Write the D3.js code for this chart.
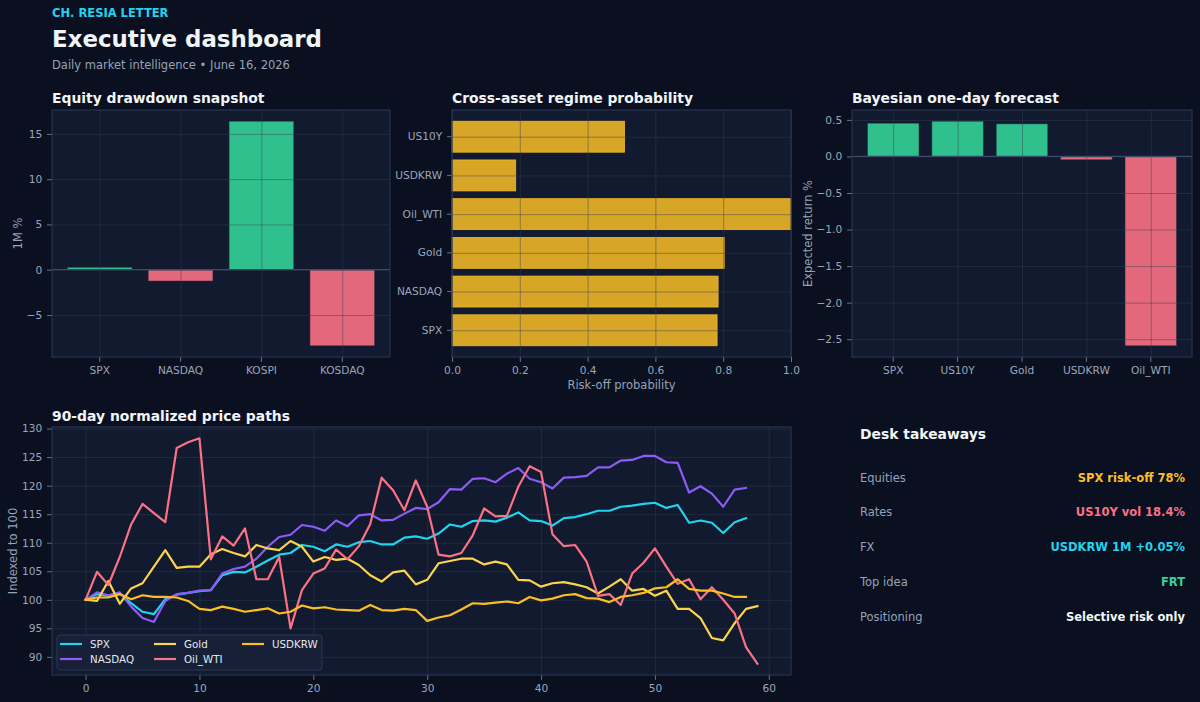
<!DOCTYPE html>
<html lang="en">
<head>
<meta charset="UTF-8">
<title>Executive dashboard</title>
<script src="https://cdn.jsdelivr.net/npm/d3@7"></script>
<style>
    body { margin: 0; background: #0b1020; }
    svg { display: block; }
    text { font-family: 'DejaVu Sans', sans-serif; }
    .tick text { fill: #9aa5bb; font-size: 10.6px; }
    .tick line { stroke: #64748b; }
    .domain { display: none; }
    .grid line { stroke: #334155; stroke-opacity: 0.45; }
    .label { fill: #94a3b8; font-size: 11.5px; text-anchor: middle; }
    .ptitle { fill: #f1f5f9; font-size: 13.9px; font-weight: bold; }
</style>
</head>
<body>
<svg width="1200" height="702"></svg>
<script>
    // ---- data ----
    const equityNames = ["SPX", "NASDAQ", "KOSPI", "KOSDAQ"];
    const equityValues = [0.27, -1.25, 16.4, -8.4];

    const regimeNames = ["SPX", "NASDAQ", "Gold", "Oil_WTI", "USDKRW", "US10Y"];
    const regimeValues = [0.782, 0.785, 0.803, 1.0, 0.188, 0.509];

    const forecastNames = ["SPX", "US10Y", "Gold", "USDKRW", "Oil_WTI"];
    const forecastValues = [0.455, 0.482, 0.446, -0.045, -2.59];

    const seriesNames = ["SPX", "NASDAQ", "Gold", "Oil_WTI", "USDKRW"];
    const spx = [100, 101.0, 100.7, 101.1, 99.4, 97.9, 97.5, 100.1, 100.9, 101.2, 101.5, 101.7, 104.3, 104.9, 104.8,
        105.8, 106.9, 107.9, 108.2, 109.6, 109.3, 108.5, 109.7, 109.3, 110.1, 110.3, 109.7, 109.7, 110.9, 111.1,
        110.7, 111.6, 113.2, 112.8, 113.8, 113.9, 113.7, 114.4, 115.3, 113.9, 113.8, 113.0, 114.3, 114.5, 115.0,
        115.6, 115.6, 116.3, 116.5, 116.8, 117.0, 116.1, 116.6, 113.5, 113.9, 113.5, 111.7, 113.6, 114.3];
    const nasdaq = [100, 101.3, 100.8, 101.3, 98.8, 96.8, 96.1, 99.8, 101.0, 101.2, 101.6, 101.7, 104.6, 105.4, 105.8,
        107.2, 109.3, 111.0, 111.4, 113.1, 112.8, 112.1, 113.9, 112.9, 114.8, 115.0, 113.9, 114.0, 115.1, 116.1,
        115.9, 117.1, 119.4, 119.3, 121.2, 121.3, 120.6, 122.1, 123.1, 121.2, 120.6, 119.5, 121.4, 121.5, 121.7,
        123.2, 123.2, 124.4, 124.5, 125.2, 125.2, 124.1, 124.0, 118.8, 119.9, 118.6, 116.3, 119.3, 119.6];
    const gold = [100, 99.8, 103.3, 99.3, 102.0, 102.9, 105.8, 108.7, 105.6, 105.8, 105.8, 108.0, 108.9, 108.2, 107.6,
        109.6, 109.0, 108.7, 110.3, 109.3, 106.7, 107.5, 107.0, 107.2, 106.1, 104.3, 103.2, 104.8, 105.1, 102.7,
        103.5, 106.4, 106.8, 107.2, 107.2, 106.2, 106.7, 106.2, 103.5, 103.4, 102.3, 102.9, 103.1, 102.7, 102.2,
        101.1, 102.3, 103.6, 101.6, 101.9, 100.7, 101.6, 98.4, 98.4, 96.8, 93.3, 92.9, 95.9, 98.4, 98.9];
    const oilWti = [100, 104.9, 102.6, 107.5, 113.2, 116.8, 115.2, 113.6, 126.6, 127.6, 128.3, 107.1, 111.1, 109.5, 112.5,
        103.6, 103.6, 107.5, 95.0, 101.7, 104.6, 105.5, 108.8, 107.1, 109.4, 113.3, 121.4, 119.2, 115.7, 120.9,
        116.3, 107.9, 107.6, 108.2, 111.3, 116.0, 114.6, 114.7, 119.8, 123.4, 122.4, 111.5, 109.4, 109.6, 106.7,
        100.7, 101.0, 99.1, 104.6, 106.5, 109.0, 105.8, 102.8, 103.6, 100.1, 102.2, 100.0, 97.6, 91.7, 88.8];
    const usdkrw = [100, 100.4, 100.4, 101.0, 100.1, 100.8, 100.5, 100.5, 100.4, 99.8, 98.4, 98.2, 98.8, 98.4, 97.9,
        98.2, 98.5, 97.6, 97.9, 99.0, 98.5, 98.7, 98.3, 98.2, 98.1, 99.1, 98.2, 98.1, 98.4, 98.2,
        96.3, 96.9, 97.3, 98.3, 99.4, 99.3, 99.5, 99.7, 99.4, 100.5, 99.9, 100.2, 100.8, 101.0, 100.3,
        100.2, 99.6, 100.5, 100.8, 101.2, 102.0, 102.2, 103.6, 101.9, 101.6, 101.6, 101.1, 100.5, 100.5];
    const seriesValues = [spx, nasdaq, gold, oilWti, usdkrw];
    const seriesColors = ["#22d3ee", "#8b5cf6", "#fcd34d", "#fb7185", "#fbbf24"];

    const takeawayLabels = ["Equities", "Rates", "FX", "Top idea", "Positioning"];
    const takeawayValues = ["SPX risk-off 78%", "US10Y vol 18.4%", "USDKRW 1M +0.05%", "FRT", "Selective risk only"];
    const takeawayColors = ["#fbbf24", "#fb7185", "#22d3ee", "#34d399", "#f1f5f9"];

    const up = "#34d399", down = "#fb7185", amber = "#fbbf24";
    const tick = 4.9;
    const svg = d3.select("svg");

    // matplotlib style 5% margins around the data
    function mplDomain(values, withZero) {
        let lo = d3.min(values), hi = d3.max(values);
        if (withZero) { lo = Math.min(lo, 0); hi = Math.max(hi, 0); }
        const pad = (hi - lo) * 0.05;
        return [lo - pad, hi + pad];
    }

    function panel(box) {
        svg.append("rect")
            .attr("x", box.l).attr("y", box.t)
            .attr("width", box.r - box.l).attr("height", box.b - box.t)
            .attr("fill", "#111a2e");
    }

    function border(box) {
        svg.append("rect")
            .attr("x", box.l).attr("y", box.t)
            .attr("width", box.r - box.l).attr("height", box.b - box.t)
            .attr("fill", "none").attr("stroke", "#2a3856").attr("stroke-width", 1);
    }

    function gridX(box, scale, values) {
        svg.append("g").attr("class", "grid")
            .attr("transform", `translate(0,${box.b})`)
            .call(d3.axisBottom(scale).tickValues(values).tickSize(-(box.b - box.t)).tickFormat(""));
    }

    function gridY(box, scale, values) {
        svg.append("g").attr("class", "grid")
            .attr("transform", `translate(${box.l},0)`)
            .call(d3.axisLeft(scale).tickValues(values).tickSize(-(box.r - box.l)).tickFormat(""));
    }

    function title(txt, x, y) {
        svg.append("text").attr("class", "ptitle").attr("x", x).attr("y", y).text(txt);
    }

    function yLabel(txt, x, y) {
        svg.append("text").attr("class", "label")
            .attr("transform", `translate(${x},${y}) rotate(-90)`)
            .text(txt);
    }

    // vertical bar panel (equity snapshot, forecast)
    function columns(box, names, values, fmt, label, labelX) {
        panel(box);
        const n = names.length;
        const x = d3.scaleBand().domain(names).range([box.l, box.r])
            .paddingInner(0.2).paddingOuter(0.05 * (n - 0.2));
        const y = d3.scaleLinear().domain(mplDomain(values, true)).range([box.b, box.t]);
        const yTicks = y.ticks(6).filter(t => y(t) >= box.t && y(t) <= box.b);

        svg.append("g").selectAll("rect")
            .data(names.map((d, i) => ({name: d, v: values[i]})))
            .join("rect")
            .attr("x", d => x(d.name))
            .attr("width", x.bandwidth())
            .attr("y", d => y(Math.max(0, d.v)))
            .attr("height", d => Math.abs(y(d.v) - y(0)))
            .attr("fill", d => d.v >= 0 ? up : down)
            .attr("fill-opacity", 0.9)
            .attr("stroke", "#1e293b").attr("stroke-opacity", 0.6).attr("stroke-width", 0.8);

        gridX(box, d3.scalePoint().domain(names).range([x(names[0]) + x.bandwidth() / 2, x(names[n - 1]) + x.bandwidth() / 2]), names);
        gridY(box, y, yTicks);

        svg.append("line")
            .attr("x1", box.l).attr("x2", box.r)
            .attr("y1", y(0)).attr("y2", y(0))
            .attr("stroke", "#3b4a66").attr("stroke-width", 1.2);

        svg.append("g").attr("transform", `translate(0,${box.b})`)
            .call(d3.axisBottom(x).tickSize(tick).tickPadding(tick));
        svg.append("g").attr("transform", `translate(${box.l},0)`)
            .call(d3.axisLeft(y).tickValues(yTicks).tickFormat(d3.format(fmt)).tickSize(tick).tickPadding(tick));
        border(box);
        yLabel(label, labelX, (box.t + box.b) / 2);
    }

    // ---- header ----
    svg.append("text").attr("x", 52).attr("y", 17.3)
        .attr("fill", "#22d3ee").attr("font-size", "11.5px").attr("font-weight", "bold")
        .text("CH. RESIA LETTER");
    svg.append("text").attr("x", 52).attr("y", 46.7)
        .attr("fill", "#f1f5f9").attr("font-size", "22.9px").attr("font-weight", "bold")
        .text("Executive dashboard");
    svg.append("text").attr("x", 52).attr("y", 69)
        .attr("fill", "#94a3b8").attr("font-size", "11.5px")
        .text("Daily market intelligence • June 16, 2026");

    // ---- equity drawdown snapshot ----
    const boxEq = {l: 52, r: 390, t: 110, b: 357};
    title("Equity drawdown snapshot", 52, 102.7);
    columns(boxEq, equityNames, equityValues, "d", "1M %", 21.7);

    // ---- cross-asset regime probability ----
    const boxRg = {l: 452, r: 791, t: 110, b: 357};
    title("Cross-asset regime probability", 452, 102.7);
    panel(boxRg);
    const rx = d3.scaleLinear().domain([0, 1]).range([boxRg.l, boxRg.r]);
    const nR = regimeNames.length;
    const ry = d3.scaleBand().domain(regimeNames).range([boxRg.b, boxRg.t])
        .paddingInner(0.2).paddingOuter(0.05 * (nR - 0.2));
    const rxTicks = d3.range(0, 1.01, 0.2);

    svg.append("g").selectAll("rect")
        .data(regimeNames.map((d, i) => ({name: d, v: regimeValues[i]})))
        .join("rect")
        .attr("x", rx(0))
        .attr("y", d => ry(d.name))
        .attr("width", d => rx(d.v) - rx(0))
        .attr("height", ry.bandwidth())
        .attr("fill", amber).attr("fill-opacity", 0.85)
        .attr("stroke", amber).attr("stroke-opacity", 0.9).attr("stroke-width", 0.8);

    gridX(boxRg, rx, rxTicks);
    gridY(boxRg, d3.scalePoint().domain(regimeNames)
        .range([ry(regimeNames[0]) + ry.bandwidth() / 2, ry(regimeNames[nR - 1]) + ry.bandwidth() / 2]), regimeNames);

    svg.append("g").attr("transform", `translate(0,${boxRg.b})`)
        .call(d3.axisBottom(rx).tickValues(rxTicks).tickFormat(d3.format(".1f")).tickSize(tick).tickPadding(tick));
    svg.append("g").attr("transform", `translate(${boxRg.l},0)`)
        .call(d3.axisLeft(ry).tickSize(tick).tickPadding(tick));
    border(boxRg);
    svg.append("text").attr("class", "label")
        .attr("x", (boxRg.l + boxRg.r) / 2).attr("y", 389)
        .text("Risk-off probability");

    // ---- bayesian one-day forecast ----
    const boxFc = {l: 852, r: 1192, t: 110, b: 357};
    title("Bayesian one-day forecast", 852, 102.7);
    columns(boxFc, forecastNames, forecastValues, ".1f", "Expected return %", 811.5);

    // ---- 90-day normalized price paths ----
    const boxLn = {l: 52, r: 791, t: 427, b: 675};
    title("90-day normalized price paths", 52, 420.7);
    panel(boxLn);
    const maxLen = d3.max(seriesValues, s => s.length);
    const lx = d3.scaleLinear().domain(mplDomain([0, maxLen - 1])).range([boxLn.l, boxLn.r]);
    const ly = d3.scaleLinear().domain(mplDomain(seriesValues.flat())).range([boxLn.b, boxLn.t]);
    const lxTicks = d3.range(0, 61, 10);
    const lyTicks = d3.range(90, 131, 5);

    gridX(boxLn, lx, lxTicks);
    gridY(boxLn, ly, lyTicks);

    const line = d3.line().x((d, i) => lx(i)).y(d => ly(d));
    svg.append("g").selectAll("path")
        .data(seriesValues)
        .join("path")
        .attr("d", line)
        .attr("fill", "none")
        .attr("stroke", (d, i) => seriesColors[i])
        .attr("stroke-width", 2.2)
        .attr("stroke-linejoin", "round")
        .attr("stroke-linecap", "square");

    svg.append("g").attr("transform", `translate(0,${boxLn.b})`)
        .call(d3.axisBottom(lx).tickValues(lxTicks).tickFormat(d3.format("d")).tickSize(tick).tickPadding(tick));
    svg.append("g").attr("transform", `translate(${boxLn.l},0)`)
        .call(d3.axisLeft(ly).tickValues(lyTicks).tickFormat(d3.format("d")).tickSize(tick).tickPadding(tick));
    border(boxLn);
    yLabel("Indexed to 100", 17, (boxLn.t + boxLn.b) / 2);

    // legend, 3 columns filled top-down like matplotlib ncol=3
    const legend = svg.append("g").attr("transform", "translate(57,635)");
    legend.append("rect").attr("width", 265).attr("height", 35).attr("rx", 3)
        .attr("fill", "#172036").attr("stroke", "#2a3856");
    const colX = [3, 97, 185];
    const item = legend.selectAll("g.item")
        .data(seriesNames)
        .join("g").attr("class", "item")
        .attr("transform", (d, i) => `translate(${colX[Math.floor(i / 2)]},${9 + (i % 2) * 15})`);
    item.append("line").attr("x1", 0).attr("x2", 22)
        .attr("stroke", (d, i) => seriesColors[i]).attr("stroke-width", 2.2);
    item.append("text").attr("x", 30).attr("dy", "0.35em")
        .attr("fill", "#e2e8f0").attr("font-size", "10.3px")
        .text(d => d);

    // ---- desk takeaways ----
    title("Desk takeaways", 860, 439.3);
    const rows = svg.append("g").selectAll("g")
        .data(takeawayLabels)
        .join("g")
        .attr("transform", (d, i) => `translate(0,${481.7 + i * 34.75})`);
    rows.append("text").attr("x", 860)
        .attr("fill", "#94a3b8").attr("font-size", "11.5px")
        .text(d => d);
    rows.append("text").attr("x", 1185).attr("text-anchor", "end")
        .attr("fill", (d, i) => takeawayColors[i]).attr("font-size", "11.5px").attr("font-weight", "bold")
        .text((d, i) => takeawayValues[i]);
</script>
</body>
</html>
